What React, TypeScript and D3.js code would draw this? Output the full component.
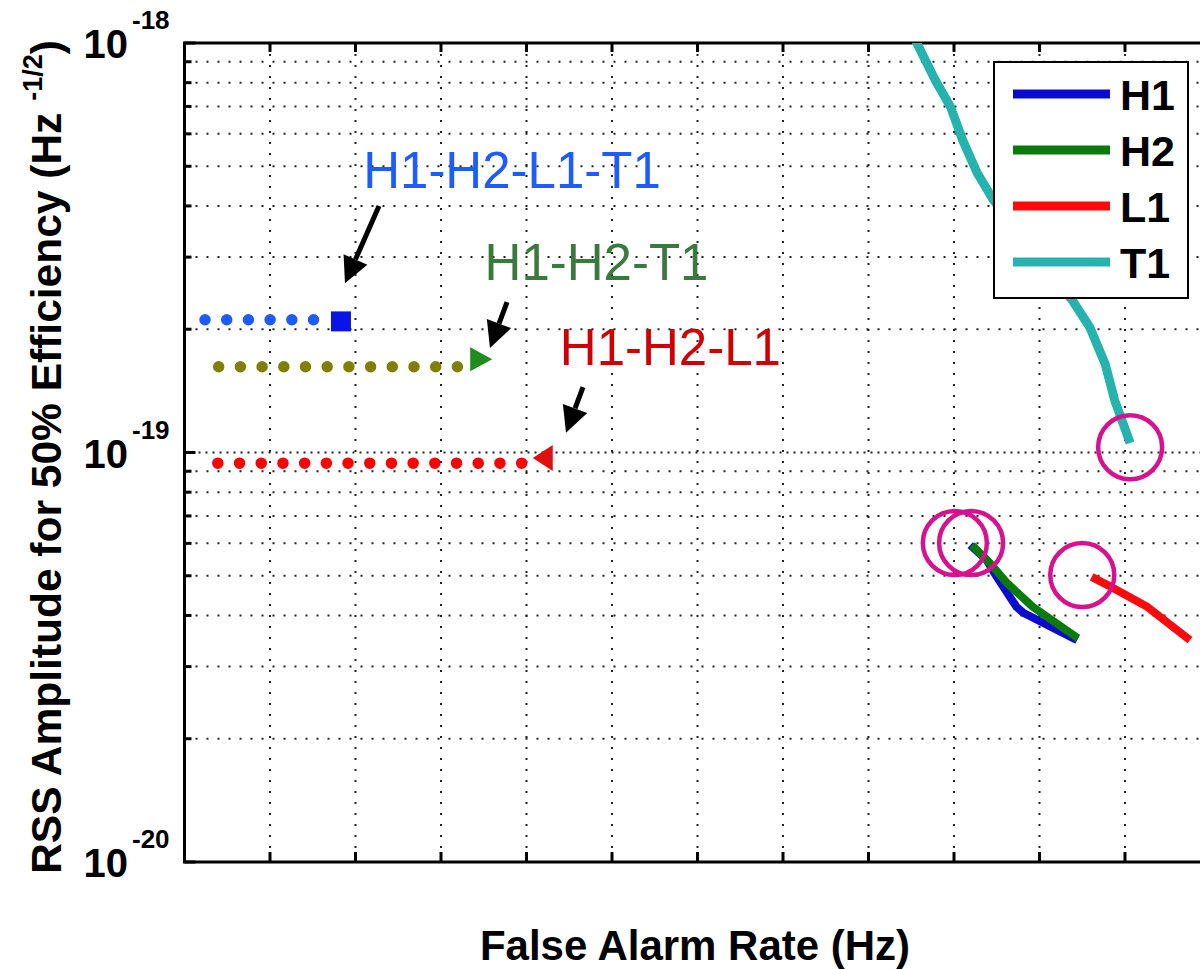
import React, { useEffect, useRef } from 'react';
import * as d3 from 'd3';

// detector curves (x in tick units, y in Hz^-1/2)
const t1X = [8.43, 8.78, 8.96, 9.1, 9.27, 9.46, 9.89, 10.38, 10.59, 10.77, 10.88, 11.06];
const t1Y = [1.14e-18, 8.12e-19, 6.98e-19, 5.8e-19, 4.82e-19, 4.14e-19, 3.13e-19, 2.36e-19, 2.02e-19, 1.64e-19, 1.34e-19, 1.055e-19];
const h1X = [9.19, 9.38, 9.5, 9.73, 9.81, 10.44];
const h1Y = [5.94e-20, 5.47e-20, 4.97e-20, 4.2e-20, 4.06e-20, 3.48e-20];
const h2X = [9.21, 9.42, 9.62, 9.92, 10.45];
const h2Y = [5.94e-20, 5.37e-20, 4.8e-20, 4.2e-20, 3.52e-20];
const l1X = [10.61, 10.86, 11.26, 11.76];
const l1Y = [4.97e-20, 4.67e-20, 4.2e-20, 3.48e-20];

const seriesNames = ['H1', 'H2', 'L1', 'T1'];
const seriesColors = ['#0a0ad0', '#0a7a0a', '#ff0a0a', '#26b3b0'];

// highlighted points
const circleX = [11.06, 9.01, 9.2, 10.5];
const circleY = [1.03e-19, 6.01e-20, 6.01e-20, 5.02e-20];

// network combinations
const comboNames = ['H1-H2-L1-T1', 'H1-H2-T1', 'H1-H2-L1'];
const comboTextColors = ['#1f5cff', '#3b7a3f', '#d00000'];
const comboDotColors = ['#1f5cff', '#808000', '#ff0000'];
const comboMarkerColors = ['#0a14e6', '#1e8c1e', '#e01010'];
const comboMarkers = ['square', 'triRight', 'triLeft'];
const comboLineStart = [0.24, 0.4, 0.39];
const comboLineEnd = [1.5, 3.2, 3.95];
const comboLineY = [2.11e-19, 1.62e-19, 9.42e-20];
const comboMarkerX = [1.83, 3.47, 4.19];
const comboMarkerY = [2.09e-19, 1.69e-19, 9.7e-20];
const labelX = [2.09, 3.51, 4.39];
const labelY = [4.43e-19, 2.64e-19, 1.64e-19];
const arrowFromX = [2.275, 3.772, 4.661];
const arrowFromY = [4.0e-19, 2.33e-19, 1.445e-19];
const arrowToX = [1.877, 3.573, 4.462];
const arrowToY = [2.59e-19, 1.8e-19, 1.117e-19];

const xTickValues = [1, 2, 3, 4, 5, 6, 7, 8, 9, 10, 11];
const yMajorTicks = [1e-20, 1e-19, 1e-18];
const yExponents = ['-20', '-19', '-18'];

const W = 1200;
const H = 969;
const FONT = '"Liberation Sans", Arial, sans-serif';

const App: React.FC = () => {
  const svgRef = useRef<SVGSVGElement>(null);

  useEffect(() => {
    if (!svgRef.current) return;
    const svg = d3.select(svgRef.current);
    svg.selectAll('*').remove();

    const left = 184.5, top = 43, right = 1210.5, bottom = 862;

    const x = d3.scaleLinear().domain([0, 12]).range([left, right]);
    const y = d3.scaleLog().domain([1e-20, 1e-18]).range([bottom, top]);

    svg.append('rect').attr('width', W).attr('height', H).attr('fill', '#fff');

    const defs = svg.append('defs');
    defs.append('clipPath').attr('id', 'plot-clip')
      .append('rect')
      .attr('x', left).attr('y', top)
      .attr('width', right - left).attr('height', bottom - top);

    // minor + major y ticks
    const yAll = y.ticks();
    const grid = svg.append('g');

    grid.selectAll('.hgrid')
      .data(yAll.filter(v => v > 1e-20 && v < 1e-18))
      .enter().append('line')
      .attr('x1', left).attr('x2', right)
      .attr('y1', d => y(d)).attr('y2', d => y(d))
      .attr('stroke', '#222')
      .attr('stroke-width', 2)
      .attr('stroke-dasharray', d => (Math.abs(Math.log10(d) + 19) < 1e-6 ? '2 5' : '2 9'));

    grid.selectAll('.vgrid')
      .data(xTickValues)
      .enter().append('line')
      .attr('x1', d => x(d)).attr('x2', d => x(d))
      .attr('y1', top).attr('y2', bottom)
      .attr('stroke', '#222')
      .attr('stroke-width', 2)
      .attr('stroke-dasharray', '2 9');

    // ticks
    const ticks = svg.append('g').attr('stroke', '#000').attr('stroke-width', 3);
    xTickValues.forEach(v => {
      ticks.append('line').attr('x1', x(v)).attr('x2', x(v)).attr('y1', bottom).attr('y2', bottom - 10);
      ticks.append('line').attr('x1', x(v)).attr('x2', x(v)).attr('y1', top).attr('y2', top + 9);
    });
    yAll.forEach(v => {
      const major = yMajorTicks.some(m => Math.abs(Math.log10(m) - Math.log10(v)) < 1e-6);
      ticks.append('line').attr('x1', left).attr('x2', left + (major ? 11 : 7))
        .attr('y1', y(v)).attr('y2', y(v));
    });

    // axes frame
    svg.append('rect')
      .attr('x', left).attr('y', top)
      .attr('width', right - left).attr('height', bottom - top)
      .attr('fill', 'none').attr('stroke', '#000').attr('stroke-width', 3);

    // y tick labels
    yMajorTicks.forEach((v, i) => {
      svg.append('text')
        .attr('x', 128).attr('y', y(v) + 15)
        .attr('text-anchor', 'end')
        .style('font-family', FONT).style('font-weight', 'bold').style('font-size', '40px')
        .text('10');
      svg.append('text')
        .attr('x', 132).attr('y', y(v) - 14)
        .attr('text-anchor', 'start')
        .style('font-family', FONT).style('font-weight', 'bold').style('font-size', '26px')
        .text(yExponents[i]);
    });

    // axis titles
    svg.append('text')
      .attr('x', 695).attr('y', 960)
      .attr('text-anchor', 'middle')
      .style('font-family', FONT).style('font-weight', 'bold').style('font-size', '42px')
      .text('False Alarm Rate (Hz)');

    const yTitle = svg.append('text')
      .attr('transform', 'translate(61,457) rotate(-90)')
      .attr('text-anchor', 'middle')
      .style('font-family', FONT).style('font-weight', 'bold').style('font-size', '42.5px');
    yTitle.append('tspan').text('RSS Amplitude for 50% Efficiency (Hz ');
    yTitle.append('tspan').attr('dy', -19).style('font-size', '27px').text('-1/2');
    yTitle.append('tspan').attr('dy', 19).text(')');

    // data curves
    const plot = svg.append('g').attr('clip-path', 'url(#plot-clip)');
    const line = d3.line<[number, number]>()
      .x(d => x(d[0]))
      .y(d => y(d[1]))
      .curve(d3.curveLinear);

    const seriesData: [number, number][][] = [
      h1X.map((v, i) => [v, h1Y[i]]),
      h2X.map((v, i) => [v, h2Y[i]]),
      l1X.map((v, i) => [v, l1Y[i]]),
      t1X.map((v, i) => [v, t1Y[i]]),
    ];
    const drawOrder = [3, 0, 1, 2];
    drawOrder.forEach(k => {
      plot.append('path')
        .attr('d', line(seriesData[k]))
        .attr('fill', 'none')
        .attr('stroke', seriesColors[k])
        .attr('stroke-width', k === 3 ? 9 : 8)
        .attr('stroke-linejoin', 'round');
    });

    // combination dotted lines + markers
    comboNames.forEach((name, i) => {
      plot.append('line')
        .attr('x1', x(comboLineStart[i])).attr('x2', x(comboLineEnd[i]) + 1)
        .attr('y1', y(comboLineY[i])).attr('y2', y(comboLineY[i]))
        .attr('stroke', comboDotColors[i])
        .attr('stroke-width', 11.5)
        .attr('stroke-linecap', 'round')
        .attr('stroke-dasharray', '0 21.7');

      const mx = x(comboMarkerX[i]);
      const my = y(comboMarkerY[i]);
      const s = 11;
      let pts: [number, number][];
      if (comboMarkers[i] === 'square') {
        pts = [[mx - s + 1, my - s + 1], [mx + s - 1, my - s + 1], [mx + s - 1, my + s - 1], [mx - s + 1, my + s - 1]];
      } else if (comboMarkers[i] === 'triRight') {
        pts = [[mx - s, my - 12], [mx + s, my], [mx - s, my + 12]];
      } else {
        pts = [[mx + 10, my - 13], [mx - 10, my], [mx + 10, my + 13]];
      }
      plot.append('polygon')
        .attr('points', pts.map(p => p.join(',')).join(' '))
        .attr('fill', comboMarkerColors[i]);

      // label
      svg.append('text')
        .attr('x', x(labelX[i])).attr('y', y(labelY[i]))
        .style('font-family', FONT).style('font-size', '51px')
        .attr('fill', comboTextColors[i])
        .text(name);

      // arrow
      const x0 = x(arrowFromX[i]), y0 = y(arrowFromY[i]);
      const x1 = x(arrowToX[i]), y1 = y(arrowToY[i]);
      const ang = Math.atan2(y1 - y0, x1 - x0);
      const headLen = 26, headW = 13;
      const bx = x1 - headLen * Math.cos(ang);
      const by = y1 - headLen * Math.sin(ang);
      svg.append('line')
        .attr('x1', x0).attr('y1', y0).attr('x2', bx).attr('y2', by)
        .attr('stroke', '#000').attr('stroke-width', 5);
      svg.append('polygon')
        .attr('points', [
          [x1, y1],
          [bx + headW * Math.sin(ang), by - headW * Math.cos(ang)],
          [bx - headW * Math.sin(ang), by + headW * Math.cos(ang)],
        ].map(p => p.join(',')).join(' '))
        .attr('fill', '#000');
    });

    // highlight circles
    svg.selectAll('.hl')
      .data(circleX.map((v, i) => [v, circleY[i]]))
      .enter().append('circle')
      .attr('cx', d => x(d[0]))
      .attr('cy', d => y(d[1]))
      .attr('r', 32)
      .attr('fill', 'none')
      .attr('stroke', '#d6128f')
      .attr('stroke-width', 4.5);

    // legend
    const legend = svg.append('g');
    legend.append('rect')
      .attr('x', 994).attr('y', 62)
      .attr('width', 194).attr('height', 236)
      .attr('fill', '#fff').attr('stroke', '#000').attr('stroke-width', 2);
    const legendY = d3.scalePoint<string>().domain(seriesNames).range([94, 262]);
    seriesNames.forEach((name, i) => {
      const ly = legendY(name) as number;
      legend.append('line')
        .attr('x1', 1013).attr('x2', 1110)
        .attr('y1', ly).attr('y2', ly)
        .attr('stroke', seriesColors[i]).attr('stroke-width', 9);
      legend.append('text')
        .attr('x', 1120).attr('y', ly + 16)
        .style('font-family', FONT).style('font-weight', 'bold').style('font-size', '43px')
        .text(name);
    });
  }, []);

  return (
    <svg
      ref={svgRef}
      width={W}
      height={H}
      style={{ position: 'absolute', left: 0, top: 0, display: 'block', background: '#fff' }}
    />
  );
};

export default App;
